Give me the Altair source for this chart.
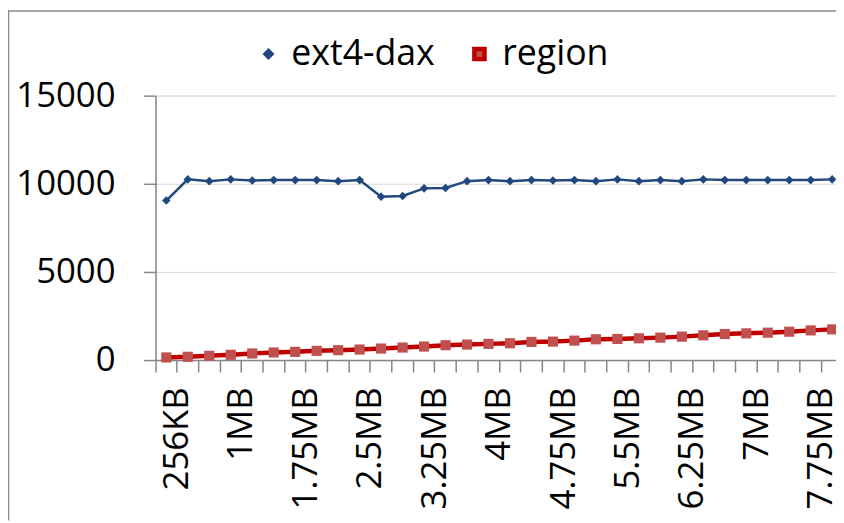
import json
import altair as alt
import pandas as pd

sizes = ["256KB", "512KB", "768KB", "1MB", "1.25MB", "1.5MB", "1.75MB", "2MB",
         "2.25MB", "2.5MB", "2.75MB", "3MB", "3.25MB", "3.5MB", "3.75MB", "4MB",
         "4.25MB", "4.5MB", "4.75MB", "5MB", "5.25MB", "5.5MB", "5.75MB", "6MB",
         "6.25MB", "6.5MB", "6.75MB", "7MB", "7.25MB", "7.5MB", "7.75MB", "8MB"]

ext4_dax = [9050, 10250, 10150, 10250, 10190, 10210, 10210, 10210,
            10150, 10210, 9270, 9310, 9740, 9760, 10150, 10210,
            10150, 10210, 10190, 10210, 10150, 10250, 10150, 10210,
            10150, 10250, 10210, 10210, 10210, 10210, 10210, 10250]

region = [150, 187, 243, 300, 375, 431, 468, 524,
          562, 599, 655, 712, 768, 843, 880, 920,
          955, 1030, 1049, 1105, 1180, 1198, 1236, 1273,
          1330, 1404, 1479, 1517, 1554, 1610, 1685, 1742]

series_names = ["ext4-dax", "region"]
line_colors = ["#1F497D", "#C00000"]
marker_colors = ["#1F497D", "#C0504D"]
line_widths = [2.5, 4.5]
marker_shapes = ["diamond", "square"]
marker_sizes = [75, 105]
y_ticks = [0, 5000, 10000, 15000]

rows = []
for s, a, b in zip(sizes, ext4_dax, region):
    rows.append({"size": s, "series": series_names[0], "value": a})
    rows.append({"size": s, "series": series_names[1], "value": b})
df = pd.DataFrame(rows)

W, H = 694, 267
PAD_LEFT, PAD_TOP = 149, 86
PAD_BOTTOM = 162
PAD_RIGHT = -7
band = W / len(sizes)
FONT = "Open Sans"

label_expr = f"indexof({json.dumps(sizes)}, datum.value) % 3 == 0 ? datum.label : ''"

x_enc = alt.X(
    "size:N", sort=sizes,
    scale=alt.Scale(type="band", paddingInner=0, paddingOuter=0),
    axis=alt.Axis(title=None, bandPosition=0, labelOffset=band / 2, labelAngle=270,
                  labelExpr=label_expr, labelOverlap=False, labelFont=FONT,
                  labelFontSize=35, labelColor="black", labelPadding=15,
                  tickSize=12, tickColor="#868686", tickWidth=1.5,
                  domainColor="#868686", domainWidth=1.5, grid=False),
)
y_enc = alt.Y(
    "value:Q",
    scale=alt.Scale(domain=[0, 15000], nice=False),
    axis=alt.Axis(title=None, values=y_ticks, format="d", labelFont=FONT,
                  labelFontSize=35, labelColor="black", labelPadding=29,
                  tickSize=12, tickColor="#868686", tickWidth=1.5,
                  domainColor="#868686", domainWidth=1.5,
                  grid=True, gridColor="#D9D9D9", gridWidth=1),
)

# legend symbols: one closed outline = line segment with the marker in the middle
path_diamond = ("M-1,-0.07L-0.2,-0.07L0,-0.27L0.2,-0.07L1,-0.07L1,0.07"
                "L0.2,0.07L0,0.27L-0.2,0.07L-1,0.07Z")
path_square = ("M-1,-0.12L-0.34,-0.12L-0.34,-0.34L0.34,-0.34L0.34,-0.12L1,-0.12"
               "L1,0.12L0.34,0.12L0.34,0.34L-0.34,0.34L-0.34,0.12L-1,0.12Z")
test = "datum.value == 'ext4-dax'"


def pick(a, b):
    return alt.ExprRef(f"{test} ? '{a}' : '{b}'")


legend = alt.Legend(
    title=None, orient="none", legendX=96, legendY=-60, direction="horizontal",
    labelFont=FONT, labelFontSize=36, labelColor="black", labelOffset=5,
    columnPadding=27, symbolSize=1225, padding=0,
    symbolType=pick(path_diamond, path_square),
    symbolFillColor=pick(marker_colors[0], "#C32828"),
    symbolStrokeWidth=0,
    symbolOpacity=1,
)

# separate copies of the series field so the marker scales do not merge into the legend
base = alt.Chart(df).transform_calculate(s_w="datum.series", s_p="datum.series")
lines = base.mark_line().encode(
    x=x_enc, y=y_enc,
    stroke=alt.Stroke("series:N", scale=alt.Scale(domain=series_names, range=line_colors), legend=legend),
    strokeWidth=alt.StrokeWidth("s_w:N", scale=alt.Scale(domain=series_names, range=line_widths), legend=None),
)
points = base.mark_point(filled=True, opacity=1, strokeWidth=0).encode(
    x=x_enc, y=y_enc,
    fill=alt.Fill("s_p:N", scale=alt.Scale(domain=series_names, range=marker_colors), legend=None),
    shape=alt.Shape("s_p:N", scale=alt.Scale(domain=series_names, range=marker_shapes), legend=None),
    size=alt.Size("s_p:N", scale=alt.Scale(domain=series_names, range=marker_sizes), legend=None),
)

frame_data = alt.Data(values=[{"f": 0}])
frame_left = alt.Chart(frame_data).mark_rule(color="#898989", strokeWidth=1.5).encode(
    x=alt.value(-PAD_LEFT + 0.5), y=alt.value(-PAD_TOP), y2=alt.value(H + PAD_BOTTOM))
frame_top = alt.Chart(frame_data).mark_rule(color="#898989", strokeWidth=1.5).encode(
    x=alt.value(-PAD_LEFT), x2=alt.value(W), y=alt.value(-PAD_TOP + 0.5))

chart = alt.layer(lines, points, frame_left, frame_top).properties(
    width=W, height=H,
    autosize=alt.AutoSizeParams(type="none"),
    padding={"left": PAD_LEFT, "top": PAD_TOP, "right": PAD_RIGHT, "bottom": PAD_BOTTOM},
).configure_view(stroke=None).configure(background="white")

chart.save("out.html", embed_options={"renderer": "svg", "actions": False})
